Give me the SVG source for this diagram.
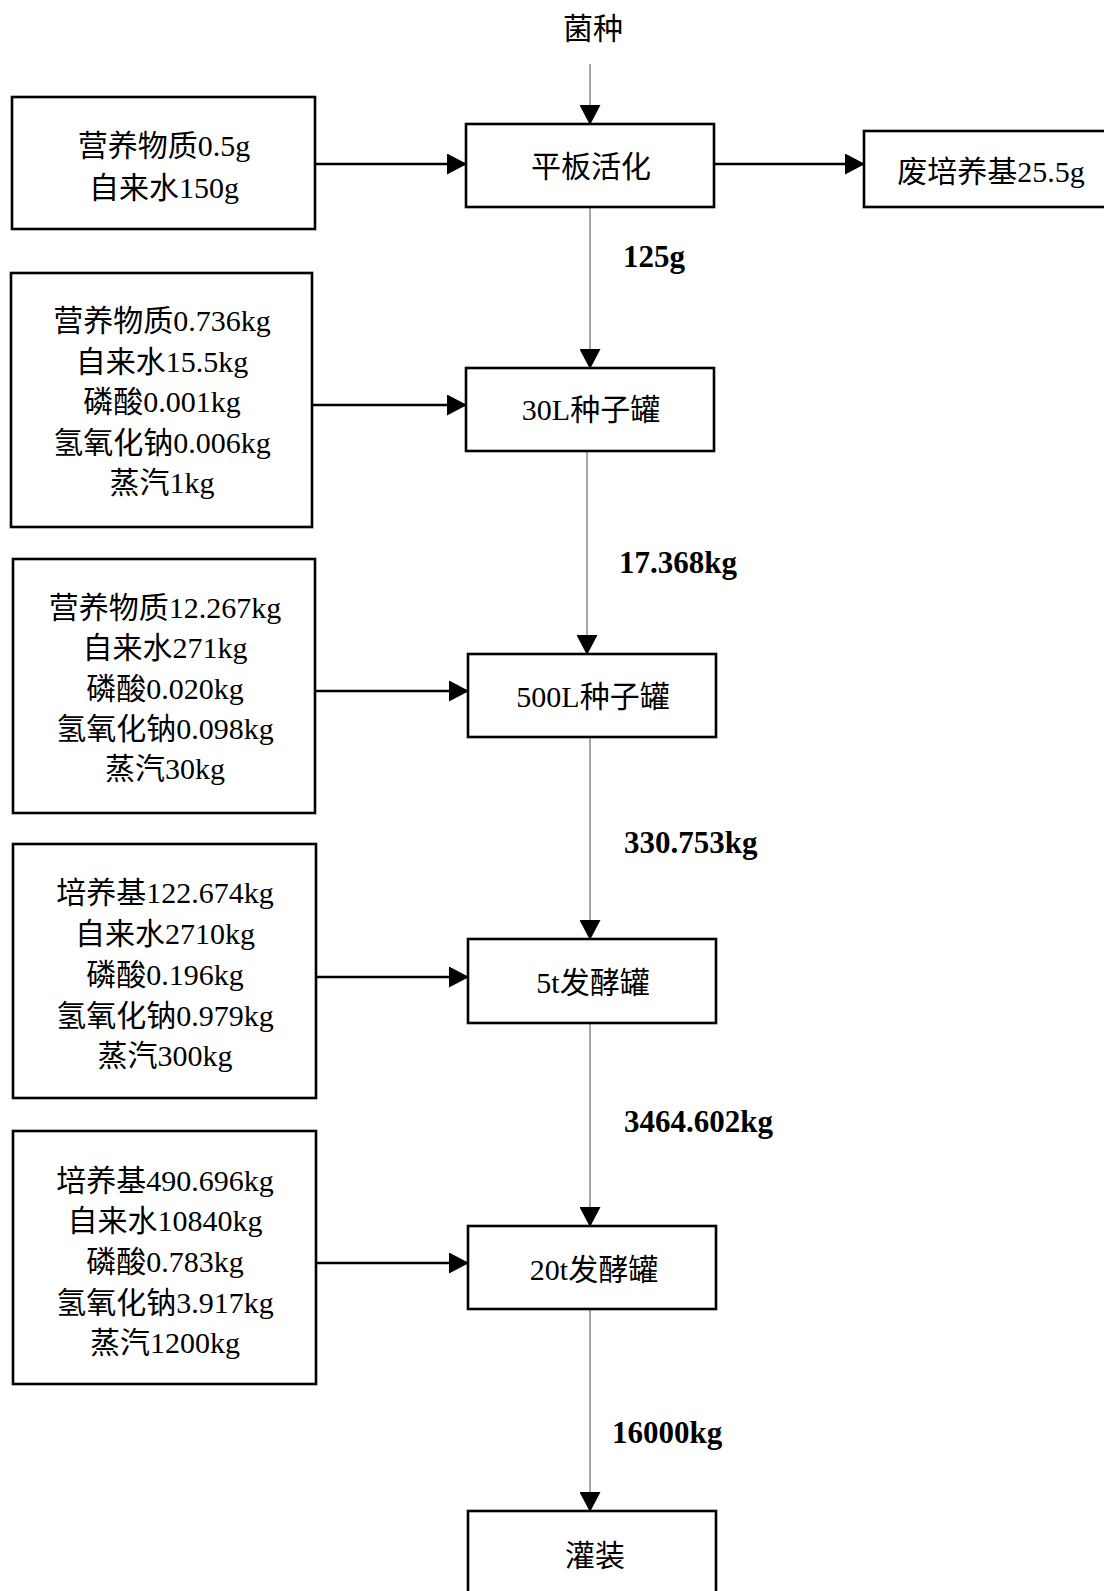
<svg xmlns="http://www.w3.org/2000/svg" width="1104" height="1591" viewBox="0 0 1104 1591">
  <style>
    .box { fill: #ffffff; stroke: #000000; stroke-width: 2.6; }
    .t { font-family: "Liberation Serif", "Noto Sans CJK SC", serif; font-size: 30px; fill: #000000; text-anchor: middle; }
    .q { font-family: "Liberation Serif", "Noto Sans CJK SC", serif; font-size: 31px; font-weight: bold; fill: #000000; }
    .feed { stroke: #000000; stroke-width: 2.6; fill: none; marker-end: url(#head); }
    .flow { stroke: #7f7f7f; stroke-width: 1.4; fill: none; marker-end: url(#head); }
  </style>
  <defs>
    <marker id="head" markerUnits="userSpaceOnUse" markerWidth="20" markerHeight="21" refX="19" refY="10.5" orient="auto" viewBox="0 0 20 21">
      <path d="M0,0 L20,10.5 L0,21 Z" fill="#000000"/>
    </marker>
  </defs>
  <rect width="1104" height="1591" fill="#ffffff"/>

  <!-- connectors -->
  <g id="connectors">
    <line class="flow" x1="590" y1="64" x2="590" y2="124"/>
    <line class="feed" x1="315" y1="164" x2="466" y2="164"/>
    <line class="feed" x1="714" y1="164" x2="864" y2="164"/>
    <line class="flow" x1="590" y1="207" x2="590" y2="368"/>
    <line class="feed" x1="312" y1="405" x2="466" y2="405"/>
    <line class="flow" x1="587" y1="451" x2="587" y2="654"/>
    <line class="feed" x1="315" y1="691" x2="468" y2="691"/>
    <line class="flow" x1="590" y1="737" x2="590" y2="939"/>
    <line class="feed" x1="316" y1="977" x2="468" y2="977"/>
    <line class="flow" x1="590" y1="1023" x2="590" y2="1226"/>
    <line class="feed" x1="316" y1="1263" x2="468" y2="1263"/>
    <line class="flow" x1="590" y1="1309" x2="590" y2="1511"/>

    <text class="q" x="623" y="267">125g</text>
    <text class="q" x="619" y="573">17.368kg</text>
    <text class="q" x="624" y="853">330.753kg</text>
    <text class="q" x="624" y="1132">3464.602kg</text>
    <text class="q" x="612" y="1443">16000kg</text>
  </g>

  <!-- source -->
  <g id="seed">
    <text class="t" x="593" y="39">菌种</text>
  </g>

  <!-- feed boxes -->
  <g id="feed1">
    <rect class="box" x="12" y="97" width="303" height="132"/>
    <text class="t" x="164" y="156">营养物质0.5g</text>
    <text class="t" x="164" y="198">自来水150g</text>
  </g>
  <g id="feed2">
    <rect class="box" x="11" y="273" width="301" height="254"/>
    <text class="t" x="162" y="331">营养物质0.736kg</text>
    <text class="t" x="162" y="371.5">自来水15.5kg</text>
    <text class="t" x="162" y="412">磷酸0.001kg</text>
    <text class="t" x="162" y="452.5">氢氧化钠0.006kg</text>
    <text class="t" x="162" y="493">蒸汽1kg</text>
  </g>
  <g id="feed3">
    <rect class="box" x="13" y="559" width="302" height="254"/>
    <text class="t" x="165" y="618">营养物质12.267kg</text>
    <text class="t" x="165" y="658">自来水271kg</text>
    <text class="t" x="165" y="699">磷酸0.020kg</text>
    <text class="t" x="165" y="739">氢氧化钠0.098kg</text>
    <text class="t" x="165" y="779">蒸汽30kg</text>
  </g>
  <g id="feed4">
    <rect class="box" x="13" y="844" width="303" height="254"/>
    <text class="t" x="165" y="903">培养基122.674kg</text>
    <text class="t" x="165" y="944">自来水2710kg</text>
    <text class="t" x="165" y="985">磷酸0.196kg</text>
    <text class="t" x="165" y="1026">氢氧化钠0.979kg</text>
    <text class="t" x="165" y="1066">蒸汽300kg</text>
  </g>
  <g id="feed5">
    <rect class="box" x="13" y="1131" width="303" height="253"/>
    <text class="t" x="165" y="1191">培养基490.696kg</text>
    <text class="t" x="165" y="1231">自来水10840kg</text>
    <text class="t" x="165" y="1272">磷酸0.783kg</text>
    <text class="t" x="165" y="1313">氢氧化钠3.917kg</text>
    <text class="t" x="165" y="1353">蒸汽1200kg</text>
  </g>

  <!-- process steps -->
  <g id="plate">
    <rect class="box" x="466" y="124" width="248" height="83"/>
    <text class="t" x="591" y="177">平板活化</text>
  </g>
  <g id="waste">
    <rect class="box" x="864" y="131" width="260" height="76"/>
    <text class="t" x="991" y="182">废培养基25.5g</text>
  </g>
  <g id="seed30L">
    <rect class="box" x="466" y="368" width="248" height="83"/>
    <text class="t" x="591" y="420">30L种子罐</text>
  </g>
  <g id="seed500L">
    <rect class="box" x="468" y="654" width="248" height="83"/>
    <text class="t" x="593" y="707">500L种子罐</text>
  </g>
  <g id="ferm5t">
    <rect class="box" x="468" y="939" width="248" height="84"/>
    <text class="t" x="593" y="993">5t发酵罐</text>
  </g>
  <g id="ferm20t">
    <rect class="box" x="468" y="1226" width="248" height="83"/>
    <text class="t" x="594" y="1280">20t发酵罐</text>
  </g>
  <g id="filling">
    <rect class="box" x="468" y="1511" width="248" height="100"/>
    <text class="t" x="595" y="1566">灌装</text>
  </g>
</svg>
